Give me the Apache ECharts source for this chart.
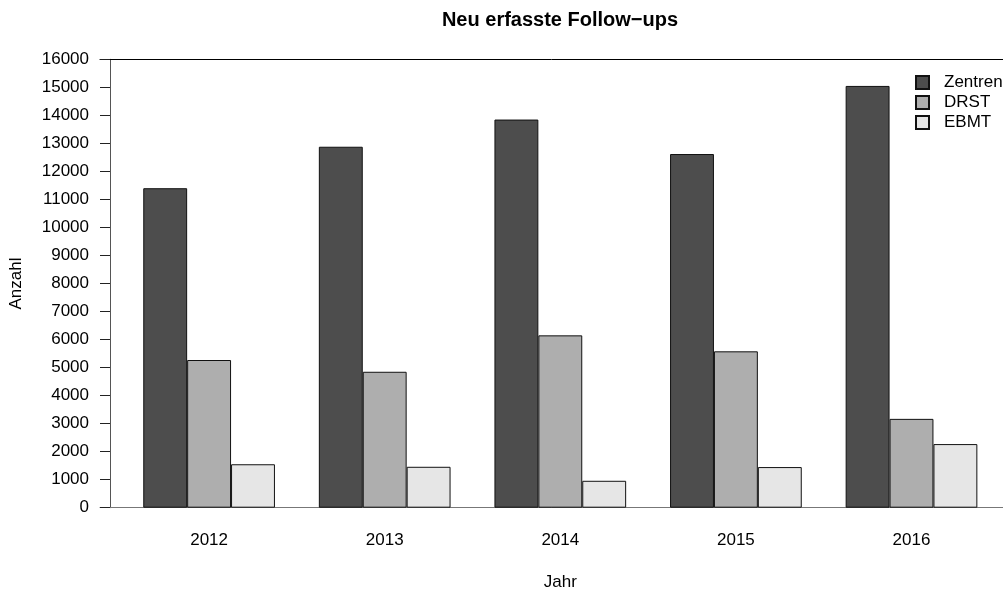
<!DOCTYPE html>
<html>
<head>
<meta charset="utf-8">
<script src="https://cdn.jsdelivr.net/npm/echarts@6/dist/echarts.min.js"></script>
<style>
html, body { margin: 0; padding: 0; background: #fff; }
#chart { width: 1003px; height: 590px; }
</style>
</head>
<body>
<div id="chart"></div>
<script>
// Daten
var jahre = ['2012', '2013', '2014', '2015', '2016'];
var zentren = [11400, 12880, 13850, 12620, 15050];
var drst = [5270, 4850, 6150, 5580, 3170];
var ebmt = [1550, 1460, 960, 1450, 2270];
var yTicks = { min: 0, max: 16000, step: 1000 };

var font = "'Liberation Sans', Arial, sans-serif";
var chart = echarts.init(document.getElementById('chart'));

var gridTop = 59.3, gridBottom = 82.3;

var option = {
    animation: false,
    backgroundColor: '#fff',
    textStyle: { fontFamily: font },
    title: {
        text: 'Neu erfasste Follow\u2212ups',
        left: 555,
        top: 5,
        textAlign: 'center',
        textStyle: { fontFamily: font, fontSize: 20, fontWeight: 'bold', color: '#000' }
    },
    legend: {
        orient: 'vertical',
        left: 915,
        top: 74,
        padding: 0,
        icon: 'rect',
        itemWidth: 13,
        itemHeight: 13,
        itemGap: 3,
        textStyle: { fontFamily: font, fontSize: 17, color: '#000', padding: [0, 0, 0, 10] },
        data: ['Zentren', 'DRST', 'EBMT']
    },
    grid: [
        // Rahmen / Achsen
        { left: 100, right: 0, top: gridTop, bottom: gridBottom, outerBoundsMode: 'none' },
        // Balken
        { left: 121.3, right: 3.7, top: gridTop, bottom: gridBottom, outerBoundsMode: 'none' }
    ],
    xAxis: [
        {
            type: 'value', gridIndex: 0, min: 0, max: 1, position: 'bottom',
            axisLine: { show: true, lineStyle: { color: '#777', width: 1 } },
            axisTick: { show: false }, axisLabel: { show: false }, splitLine: { show: false }
        },
        {
            type: 'value', gridIndex: 0, min: 0, max: 1, position: 'top',
            axisLine: { show: true, lineStyle: { color: '#000', width: 1 } },
            axisTick: { show: false }, axisLabel: { show: false }, splitLine: { show: false }
        },
        {
            type: 'category', gridIndex: 1, data: jahre,
            axisLine: { show: false }, axisTick: { show: false },
            axisLabel: { fontFamily: font, fontSize: 17, color: '#000', margin: 24 },
            name: 'Jahr', nameLocation: 'middle', nameGap: 66,
            nameTextStyle: { fontFamily: font, fontSize: 17, color: '#000' }
        }
    ],
    yAxis: [
        {
            type: 'value', gridIndex: 0, min: yTicks.min, max: yTicks.max, interval: yTicks.step,
            offset: -10,
            axisLine: { show: true, lineStyle: { color: '#555', width: 1 } },
            axisTick: { show: true, length: 10, lineStyle: { color: '#222' } },
            axisLabel: {
                fontFamily: font, fontSize: 17, color: '#000', margin: 21,
                formatter: function (v) { return String(v); }
            },
            splitLine: { show: false },
            name: 'Anzahl', nameLocation: 'middle', nameRotate: 90, nameGap: 85,
            nameTextStyle: { fontFamily: font, fontSize: 17, color: '#000' }
        },
        {
            type: 'value', gridIndex: 1, min: yTicks.min, max: yTicks.max, show: false
        }
    ],
    series: [
        { name: 'Zentren', data: zentren, color: '#4D4D4D' },
        { name: 'DRST', data: drst, color: '#AEAEAE' },
        { name: 'EBMT', data: ebmt, color: '#E6E6E6' }
    ].map(function (s) {
        return {
            name: s.name,
            type: 'bar',
            xAxisIndex: 2,
            yAxisIndex: 1,
            data: s.data,
            barGap: '0%',
            barCategoryGap: '25%',
            itemStyle: { color: s.color, borderColor: '#111', borderWidth: 1 }
        };
    })
};

chart.setOption(option);
</script>
</body>
</html>
